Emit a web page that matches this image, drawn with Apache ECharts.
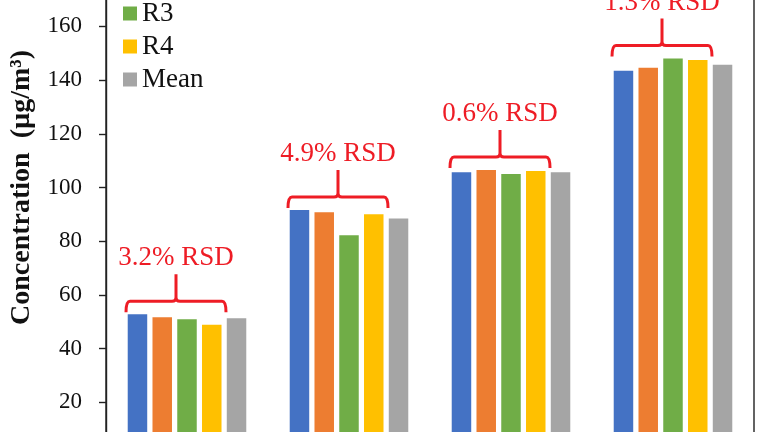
<!DOCTYPE html>
<html>
<head>
<meta charset="utf-8">
<script src="https://cdn.jsdelivr.net/npm/echarts@6/dist/echarts.min.js"></script>
<style>
    html, body { margin: 0; padding: 0; background: #fff; }
    #chart { width: 768px; height: 432px; }
</style>
</head>
<body>
<div id="chart"></div>
<script>
    // 数据
    var categories = ["S1", "S2", "S3", "S4"];
    var r1 = [52.8, 91.6, 105.7, 143.5];
    var r2 = [51.7, 90.8, 106.5, 144.6];
    var r3 = [50.9, 82.2, 105.0, 148.0];
    var r4 = [48.9, 90.0, 106.1, 147.5];
    var mean = [51.3, 88.5, 105.7, 145.7];
    var rsdLabels = ["3.2% RSD", "4.9% RSD", "0.6% RSD", "1.3% RSD"];
    var yTicks = [0, 20, 40, 60, 80, 100, 120, 140, 160, 180, 200];

    var colors = ["#4472C4", "#ED7D31", "#70AD47", "#FFC000", "#A5A5A5"];
    var red = "#EE1C25";
    var serif = "'Liberation Serif', 'DejaVu Serif', serif";

    // bracket sits above the highest replicate
    var bracketData = categories.map(function(c, i) {
        return [i, Math.max(r1[i], r2[i], r3[i], r4[i]), rsdLabels[i]];
    });

    function renderBracket(params, api) {
        var p = api.coord([api.value(0), api.value(1)]);
        var cx = p[0] - 11;
        var yh = p[1] - 13;
        var top = yh - 27;
        var w = 50, d = 11, r = 4;
        var path = "M" + (cx - w) + "," + (yh + d) +
            " Q" + (cx - w) + "," + yh + " " + (cx - w + r) + "," + yh +
            " L" + (cx - r) + "," + yh +
            " Q" + cx + "," + yh + " " + cx + "," + (yh - r) +
            " L" + cx + "," + top +
            " M" + cx + "," + (yh - r) +
            " Q" + cx + "," + yh + " " + (cx + r) + "," + yh +
            " L" + (cx + w - r) + "," + yh +
            " Q" + (cx + w) + "," + yh + " " + (cx + w) + "," + (yh + d);
        return {
            type: "group",
            children: [
                {
                    type: "path",
                    shape: {pathData: path},
                    style: {fill: null, stroke: red, lineWidth: 3}
                },
                {
                    type: "text",
                    x: cx,
                    y: top - 16,
                    style: {
                        text: api.value(2),
                        fill: red,
                        font: "27px " + serif,
                        align: "center",
                        verticalAlign: "middle"
                    }
                }
            ]
        };
    }

    function barSeries(name, data, color) {
        return {
            name: name,
            type: "bar",
            data: data,
            barWidth: 19.5,
            barGap: "27%",
            itemStyle: {color: color}
        };
    }

    var myChart = echarts.init(document.getElementById("chart"));
    var option = {
        backgroundColor: "#fff",
        animation: false,
        grid: {
            left: 106, right: 14, top: -81, bottom: -24,
            containLabel: false,
            outerBoundsMode: "none",
            show: true, borderColor: "#222", borderWidth: 1.4,
            backgroundColor: "transparent"
        },
        legend: {
            orient: "vertical",
            left: 118,
            top: -71,
            itemWidth: 14,
            itemHeight: 14,
            itemGap: 6,
            icon: "rect",
            data: ["R1", "R2", "R3", "R4", "Mean"],
            textStyle: {fontFamily: serif, fontSize: 27, lineHeight: 27, color: "#111"}
        },
        xAxis: {
            type: "category",
            data: categories,
            axisLine: {lineStyle: {color: "#222", width: 1.4}},
            axisTick: {show: false},
            axisLabel: {show: false}
        },
        yAxis: {
            type: "value",
            min: yTicks[0],
            max: yTicks[yTicks.length - 1],
            interval: yTicks[1] - yTicks[0],
            name: "Concentration  (µg/m³)",
            nameLocation: "middle",
            nameGap: 70,
            nameTextStyle: {fontFamily: serif, fontSize: 28, fontWeight: "bold", color: "#111"},
            axisLine: {show: true, lineStyle: {color: "#222", width: 1.4}},
            axisTick: {show: true, length: 7, lineStyle: {color: "#222", width: 1.4}},
            axisLabel: {margin: 24, fontFamily: serif, fontSize: 23, color: "#111"},
            splitLine: {show: false}
        },
        series: [
            barSeries("R1", r1, colors[0]),
            barSeries("R2", r2, colors[1]),
            barSeries("R3", r3, colors[2]),
            barSeries("R4", r4, colors[3]),
            barSeries("Mean", mean, colors[4]),
            {
                type: "custom",
                renderItem: renderBracket,
                data: bracketData,
                clip: false,
                silent: true,
                z: 5
            }
        ]
    };
    myChart.setOption(option);
</script>
</body>
</html>
